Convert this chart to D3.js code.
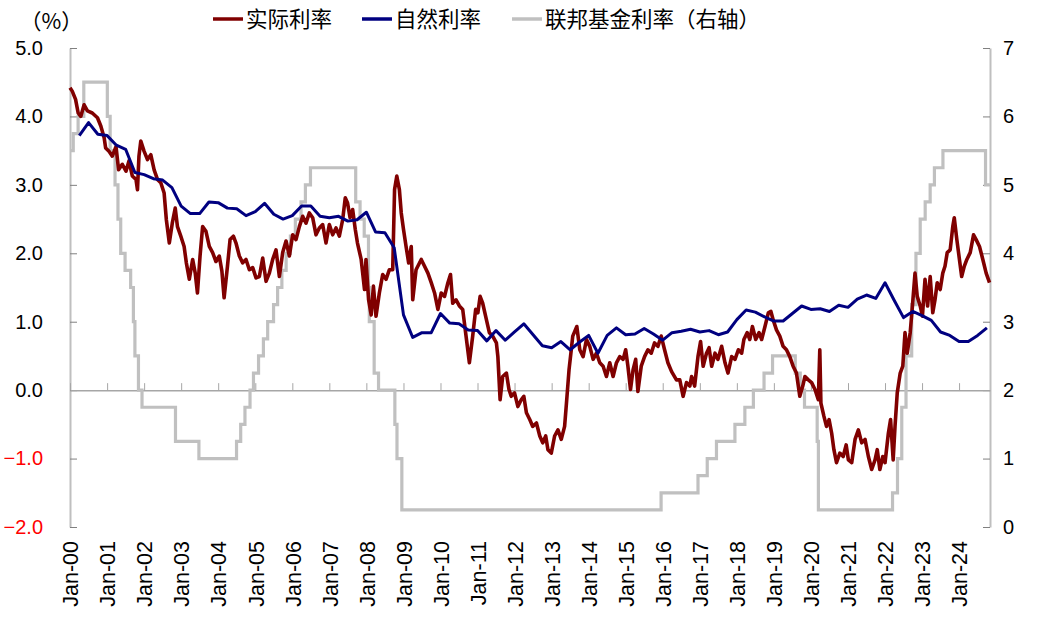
<!DOCTYPE html>
<html>
<head>
<meta charset="utf-8">
<script src="https://cdn.jsdelivr.net/npm/d3@7"></script>
<style>
  body { margin: 0; background: #fff; }
  svg { display: block; }
  .num { font-family: "Liberation Sans", Arial, sans-serif; font-size: 20px; fill: #000; }
  .xlab { font-family: "Liberation Sans", Arial, sans-serif; font-size: 21.5px; fill: #000; }
  .cjk { font-family: "Noto Sans CJK SC", sans-serif; font-size: 21.5px; fill: #000; }
</style>
</head>
<body>
<svg id="chart" width="1048" height="624"></svg>
<script>
// ---- data (time in decimal years) ----
var seriesNames = ["实际利率", "自然利率", "联邦基金利率（右轴）"];
var leftTicks = [-2, -1, 0, 1, 2, 3, 4, 5];
var rightTicks = [0, 1, 2, 3, 4, 5, 6, 7];

var realRate = [
  [2000.00,4.42],[2000.06,4.37],[2000.15,4.25],[2000.22,4.05],[2000.29,4.00],[2000.38,4.17],[2000.47,4.08],
  [2000.60,4.05],[2000.74,3.98],[2000.83,3.86],[2000.92,3.69],[2000.96,3.54],[2001.05,3.49],[2001.14,3.42],
  [2001.24,3.56],[2001.31,3.22],[2001.41,3.30],[2001.51,3.20],[2001.59,3.35],[2001.68,3.13],[2001.78,3.08],
  [2001.82,2.93],[2001.86,3.42],[2001.91,3.64],[2002.00,3.49],[2002.09,3.37],[2002.18,3.44],[2002.27,3.22],
  [2002.36,3.08],[2002.45,3.03],[2002.54,2.88],[2002.60,2.49],[2002.68,2.15],[2002.76,2.44],[2002.84,2.66],
  [2002.90,2.39],[2002.99,2.25],[2003.08,2.10],[2003.14,1.86],[2003.22,1.62],[2003.31,1.91],[2003.38,1.71],
  [2003.44,1.42],[2003.51,1.96],[2003.58,2.39],[2003.67,2.32],[2003.76,2.10],[2003.85,2.01],[2003.94,1.88],
  [2004.03,1.96],[2004.10,1.74],[2004.16,1.35],[2004.25,1.81],[2004.32,2.20],[2004.41,2.25],[2004.48,2.15],
  [2004.57,1.96],[2004.66,1.86],[2004.75,1.91],[2004.84,1.76],[2004.93,1.79],[2005.02,1.64],[2005.11,1.66],
  [2005.20,1.93],[2005.29,1.59],[2005.38,1.71],[2005.47,1.91],[2005.56,2.05],[2005.65,1.66],[2005.74,2.01],
  [2005.83,2.18],[2005.92,1.96],[2006.01,2.27],[2006.10,2.20],[2006.19,2.39],[2006.28,2.54],[2006.37,2.44],
  [2006.46,2.59],[2006.55,2.52],[2006.64,2.27],[2006.73,2.37],[2006.82,2.42],[2006.91,2.15],[2007.00,2.42],
  [2007.09,2.27],[2007.18,2.37],[2007.27,2.25],[2007.36,2.49],[2007.43,2.81],[2007.49,2.74],[2007.56,2.52],
  [2007.63,2.64],[2007.70,2.35],[2007.76,2.15],[2007.86,1.91],[2007.95,1.47],[2007.99,1.91],[2008.06,1.32],
  [2008.13,1.10],[2008.19,1.52],[2008.26,1.08],[2008.35,1.42],[2008.44,1.69],[2008.53,1.62],[2008.62,1.76],
  [2008.71,1.76],[2008.76,2.93],[2008.82,3.13],[2008.89,2.93],[2008.94,2.59],[2009.00,2.35],[2009.07,2.10],
  [2009.14,1.86],[2009.21,2.10],[2009.25,1.32],[2009.34,1.76],[2009.48,1.91],[2009.57,1.81],[2009.66,1.71],
  [2009.75,1.57],[2009.84,1.42],[2009.93,1.18],[2010.02,1.42],[2010.11,1.37],[2010.20,1.57],[2010.27,1.69],
  [2010.33,1.27],[2010.42,1.32],[2010.51,1.23],[2010.60,1.18],[2010.69,0.79],[2010.78,0.40],[2010.87,0.79],
  [2010.95,1.18],[2011.01,1.13],[2011.07,1.37],[2011.14,1.27],[2011.24,1.03],[2011.32,0.84],[2011.41,0.79],
  [2011.51,0.69],[2011.55,0.49],[2011.61,-0.14],[2011.68,0.20],[2011.78,0.25],[2011.85,0.01],[2011.91,-0.09],
  [2012.00,-0.04],[2012.09,-0.24],[2012.18,-0.14],[2012.25,-0.09],[2012.32,-0.33],[2012.41,-0.43],[2012.49,-0.53],
  [2012.59,-0.48],[2012.68,-0.67],[2012.76,-0.77],[2012.84,-0.67],[2012.90,-0.87],[2012.99,-0.92],[2013.08,-0.67],
  [2013.17,-0.58],[2013.26,-0.72],[2013.35,-0.53],[2013.40,-0.19],[2013.47,0.30],[2013.53,0.59],[2013.57,0.79],
  [2013.68,0.93],[2013.76,0.59],[2013.85,0.49],[2013.94,0.74],[2014.03,0.64],[2014.12,0.45],[2014.21,0.54],
  [2014.30,0.40],[2014.39,0.35],[2014.48,0.20],[2014.57,0.40],[2014.66,0.20],[2014.75,0.40],[2014.84,0.49],
  [2014.93,0.45],[2015.00,0.59],[2015.06,0.35],[2015.13,0.01],[2015.20,0.30],[2015.27,0.45],[2015.33,-0.02],
  [2015.42,0.35],[2015.51,0.49],[2015.60,0.59],[2015.69,0.54],[2015.78,0.69],[2015.87,0.64],[2015.96,0.79],
  [2016.05,0.59],[2016.14,0.40],[2016.24,0.27],[2016.37,0.15],[2016.46,0.15],[2016.55,-0.09],[2016.64,0.11],
  [2016.73,0.06],[2016.78,0.20],[2016.86,0.06],[2016.95,0.49],[2017.02,0.71],[2017.09,0.35],[2017.18,0.54],
  [2017.25,0.62],[2017.32,0.35],[2017.41,0.54],[2017.49,0.45],[2017.59,0.64],[2017.68,0.40],[2017.76,0.25],
  [2017.86,0.49],[2017.95,0.45],[2018.04,0.59],[2018.13,0.54],[2018.19,0.74],[2018.28,0.84],[2018.35,0.74],
  [2018.42,0.93],[2018.51,0.74],[2018.60,0.84],[2018.67,0.74],[2018.76,0.93],[2018.85,1.13],[2018.92,1.15],
  [2018.98,1.03],[2019.07,0.88],[2019.16,0.79],[2019.25,0.64],[2019.34,0.59],[2019.43,0.49],[2019.52,0.35],
  [2019.61,0.25],[2019.70,-0.09],[2019.78,0.06],[2019.84,0.20],[2019.93,0.15],[2020.02,0.11],[2020.11,0.01],
  [2020.20,-0.14],[2020.24,0.59],[2020.27,-0.19],[2020.35,-0.38],[2020.42,-0.53],[2020.49,-0.43],[2020.56,-0.63],
  [2020.62,-0.87],[2020.69,-1.06],[2020.78,-0.92],[2020.87,-0.97],[2020.95,-0.80],[2021.01,-1.02],[2021.10,-1.06],
  [2021.19,-0.72],[2021.28,-0.58],[2021.37,-0.77],[2021.46,-0.72],[2021.55,-0.97],[2021.64,-1.16],[2021.73,-1.02],
  [2021.79,-0.87],[2021.86,-1.16],[2021.94,-0.97],[2022.00,-1.06],[2022.09,-0.63],[2022.15,-0.43],[2022.22,-1.02],
  [2022.27,-0.53],[2022.33,-0.04],[2022.41,0.25],[2022.48,0.35],[2022.54,0.84],[2022.60,0.54],[2022.68,0.84],
  [2022.74,1.23],[2022.81,1.71],[2022.87,1.37],[2022.95,1.23],[2023.01,1.08],[2023.08,1.62],[2023.15,1.23],
  [2023.22,1.66],[2023.29,1.13],[2023.35,1.32],[2023.41,1.57],[2023.49,1.47],[2023.56,1.71],[2023.62,1.81],
  [2023.68,2.01],[2023.76,2.05],[2023.83,2.39],[2023.87,2.52],[2023.94,2.20],[2024.01,1.91],[2024.07,1.66],
  [2024.14,1.81],[2024.21,1.91],[2024.30,2.01],[2024.39,2.27],[2024.46,2.20],[2024.55,2.10],[2024.64,1.91],
  [2024.73,1.71],[2024.82,1.57]
];

// natural rate, quarterly
var naturalRate = [
  [2000.25,3.72],[2000.50,3.91],[2000.75,3.74],[2001.00,3.72],[2001.25,3.58],[2001.50,3.52],[2001.75,3.18],
  [2002.00,3.15],[2002.25,3.09],[2002.50,3.07],[2002.75,2.96],[2003.00,2.69],[2003.25,2.58],[2003.50,2.58],
  [2003.75,2.75],[2004.00,2.74],[2004.25,2.66],[2004.50,2.65],[2004.75,2.55],[2005.00,2.61],[2005.25,2.73],
  [2005.50,2.57],[2005.75,2.50],[2006.00,2.55],[2006.25,2.69],[2006.50,2.69],[2006.75,2.54],[2007.00,2.52],
  [2007.25,2.54],[2007.50,2.47],[2007.75,2.49],[2008.00,2.60],[2008.25,2.31],[2008.50,2.30],[2008.75,2.08],
  [2009.00,1.10],[2009.25,0.77],[2009.50,0.84],[2009.75,0.84],[2010.00,1.12],[2010.25,0.98],[2010.50,0.97],
  [2010.75,0.88],[2011.00,0.87],[2011.25,0.72],[2011.50,0.87],[2011.75,0.73],[2012.00,0.85],[2012.25,0.97],
  [2012.50,0.81],[2012.75,0.65],[2013.00,0.62],[2013.25,0.71],[2013.50,0.59],[2013.75,0.70],[2014.00,0.80],
  [2014.25,0.54],[2014.50,0.80],[2014.75,0.91],[2015.00,0.81],[2015.25,0.82],[2015.50,0.90],[2015.75,0.82],
  [2016.00,0.73],[2016.25,0.84],[2016.50,0.86],[2016.75,0.89],[2017.00,0.85],[2017.25,0.87],[2017.50,0.81],
  [2017.75,0.85],[2018.00,1.03],[2018.25,1.17],[2018.50,1.14],[2018.75,1.07],[2019.00,1.01],[2019.25,1.01],
  [2019.50,1.12],[2019.75,1.23],[2020.00,1.18],[2020.25,1.19],[2020.50,1.15],[2020.75,1.24],[2021.00,1.21],
  [2021.25,1.33],[2021.50,1.39],[2021.75,1.34],[2022.00,1.57],[2022.25,1.31],[2022.50,1.06],[2022.75,1.15],
  [2023.00,1.09],[2023.25,1.02],[2023.50,0.85],[2023.75,0.80],[2024.00,0.71],[2024.25,0.71],[2024.50,0.80],
  [2024.75,0.91]
];

// fed funds target (upper bound), change dates
var fedDates = [
  "2000-01-01","2000-02-02","2000-03-21","2000-05-16","2001-01-03","2001-01-31","2001-03-20","2001-04-18",
  "2001-05-15","2001-06-27","2001-08-21","2001-09-17","2001-10-02","2001-11-06","2001-12-11","2002-11-06",
  "2003-06-25","2004-06-30","2004-08-10","2004-09-21","2004-11-10","2004-12-14","2005-02-02","2005-03-22",
  "2005-05-03","2005-06-30","2005-08-09","2005-09-20","2005-11-01","2005-12-13","2006-01-31","2006-03-28",
  "2006-05-10","2006-06-29","2007-09-18","2007-10-31","2007-12-11","2008-01-22","2008-01-30","2008-03-18",
  "2008-04-30","2008-10-08","2008-10-29","2008-12-16","2015-12-16","2016-12-14","2017-03-15","2017-06-14",
  "2017-12-13","2018-03-21","2018-06-13","2018-09-26","2018-12-19","2019-07-31","2019-09-18","2019-10-30",
  "2020-03-03","2020-03-15","2022-03-16","2022-05-04","2022-06-15","2022-07-27","2022-09-21","2022-11-02",
  "2022-12-14","2023-02-01","2023-03-22","2023-05-03","2023-07-26","2024-09-18","2024-10-31"
];
var fedRate = [
  5.50,5.75,6.00,6.50,6.00,5.50,5.00,4.50,
  4.00,3.75,3.50,3.00,2.50,2.00,1.75,1.25,
  1.00,1.25,1.50,1.75,2.00,2.25,2.50,2.75,
  3.00,3.25,3.50,3.75,4.00,4.25,4.50,4.75,
  5.00,5.25,4.75,4.50,4.25,3.50,3.00,2.25,
  2.00,1.50,1.00,0.25,0.50,0.75,1.00,1.25,
  1.50,1.75,2.00,2.25,2.50,2.25,2.00,1.75,
  1.25,0.25,0.50,1.00,1.75,2.50,3.25,4.00,
  4.50,4.75,5.00,5.25,5.50,5.00,5.00
];

(function() {
  function yearToDate(t) {
    var yr = Math.floor(t), a = new Date(yr, 0, 1), b = new Date(yr + 1, 0, 1);
    return new Date(+a + (t - yr) * (b - a));
  }
  var parse = d3.timeParse("%Y-%m-%d");

  var svg = d3.select("#chart");
  var mL = 70, mR = 990, mT = 48, mB = 527;

  var x = d3.scaleTime()
    .domain([new Date(2000, 0, 1), new Date(2024, 10, 1)])
    .range([mL, mR]);
  var y = d3.scaleLinear().domain([-2, 5]).range([mB, mT]);
  var y2 = d3.scaleLinear().domain([0, 7]).range([mB, mT]);

  // ---- axes ----
  var gL = svg.append("g").attr("transform", "translate(" + mL + ",0)")
    .call(d3.axisLeft(y).tickValues(leftTicks).tickSizeInner(-7).tickSizeOuter(0)
      .tickPadding(27).tickFormat(d3.format(".1f")));
  gL.select(".domain").attr("stroke", "#bfbfbf").attr("stroke-width", 2);
  gL.selectAll(".tick line").attr("stroke", "#808080");
  gL.selectAll("text").attr("class", "num").attr("font-size", null).attr("font-family", null)
    .style("fill", function(d) { return d < 0 ? "#ff0000" : "#000"; });

  var gR = svg.append("g").attr("transform", "translate(" + mR + ",0)")
    .call(d3.axisRight(y2).tickValues(rightTicks).tickSizeInner(-7).tickSizeOuter(0)
      .tickPadding(13).tickFormat(d3.format("d")));
  gR.select(".domain").attr("stroke", "#bfbfbf").attr("stroke-width", 2);
  gR.selectAll(".tick line").attr("stroke", "#808080");
  gR.selectAll("text").attr("class", "num").attr("font-size", null).attr("font-family", null);

  // zero line with year ticks pointing up
  var gZ = svg.append("g").attr("transform", "translate(0," + y(0) + ")")
    .call(d3.axisBottom(x).ticks(d3.timeYear.every(1)).tickSizeInner(-7).tickSizeOuter(0).tickFormat(""));
  gZ.select(".domain").attr("stroke", "#a6a6a6").attr("stroke-width", 1.5);
  gZ.selectAll(".tick line").attr("stroke", "#a6a6a6");

  // rotated year labels along the bottom
  var gX = svg.append("g").attr("transform", "translate(0," + mB + ")")
    .call(d3.axisBottom(x).ticks(d3.timeYear.every(1)).tickSize(0).tickFormat(d3.timeFormat("%b-%y")));
  gX.select(".domain").remove();
  gX.selectAll("text").attr("class", "xlab").attr("font-size", null).attr("font-family", null)
    .attr("transform", "rotate(-90)")
    .attr("text-anchor", "end")
    .attr("x", -14).attr("y", 0).attr("dy", "0.36em");

  // ---- lines ----
  var fedData = fedDates.map(function(d, i) { return { date: parse(d), v: fedRate[i] }; });
  svg.append("path").datum(fedData)
    .attr("fill", "none").attr("stroke", "#c0c0c0").attr("stroke-width", 3.2)
    .attr("d", d3.line().curve(d3.curveStepAfter)
      .x(function(d) { return x(d.date); }).y(function(d) { return y2(d.v); }));

  svg.append("path").datum(realRate)
    .attr("fill", "none").attr("stroke", "#800000").attr("stroke-width", 3.6).attr("stroke-linejoin", "round")
    .attr("d", d3.line().x(function(d) { return x(yearToDate(d[0])); }).y(function(d) { return y(d[1]); }));

  svg.append("path").datum(naturalRate)
    .attr("fill", "none").attr("stroke", "#000080").attr("stroke-width", 3).attr("stroke-linejoin", "round")
    .attr("d", d3.line().x(function(d) { return x(yearToDate(d[0])); }).y(function(d) { return y(d[1]); }));

  // ---- legend ----
  var legendColors = ["#800000", "#000080", "#c0c0c0"];
  var legendX = [213, 362, 512];
  var lg = svg.append("g").selectAll("g").data(seriesNames).enter().append("g")
    .attr("transform", function(d, i) { return "translate(" + legendX[i] + ",19)"; });
  lg.append("line").attr("x1", 0).attr("x2", 30).attr("y1", 0).attr("y2", 0)
    .attr("stroke", function(d, i) { return legendColors[i]; }).attr("stroke-width", 3.5);
  lg.append("text").attr("class", "cjk").attr("x", 33).attr("dy", "0.36em")
    .text(function(d) { return d; });

  svg.append("text").attr("class", "cjk").attr("x", 20).attr("y", 21).attr("dy", "0.36em")
    .text("（%）");
})();
</script>
</body>
</html>
